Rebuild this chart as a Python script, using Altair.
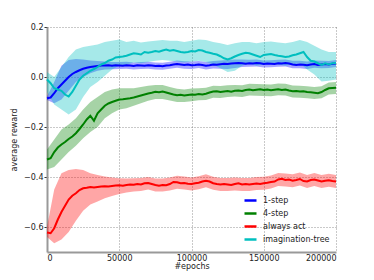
import altair as alt
import pandas as pd

series_names = ["1-step", "4-step", "always act", "imagination-tree"]
series_colors = ["#0000ff", "#008000", "#ff0000", "#00bfbf"]

# line sampling every 2500 epochs
epochs_line = list(range(0, 200001, 2500))
# band sampling every 5000 epochs
epochs_band = list(range(0, 200001, 5000))

blue_mean = [-0.085, -0.082, -0.065, -0.045, -0.03, -0.015, 0.0, 0.012, 0.02, 0.027,
             0.033, 0.037, 0.04, 0.042, 0.044, 0.046, 0.046, 0.047, 0.045, 0.047,
             0.046, 0.045, 0.047, 0.046, 0.044, 0.047, 0.046, 0.045, 0.047, 0.046,
             0.044, 0.045, 0.043, 0.046, 0.047, 0.05, 0.052, 0.05, 0.048, 0.05,
             0.047, 0.048, 0.05, 0.048, 0.045, 0.047, 0.05, 0.049, 0.051, 0.053,
             0.052, 0.054, 0.055, 0.056, 0.055, 0.053, 0.055, 0.054, 0.056, 0.055,
             0.052, 0.054, 0.053, 0.052, 0.055, 0.054, 0.056, 0.054, 0.05, 0.048,
             0.05, 0.049, 0.047, 0.05, 0.052, 0.048, 0.05, 0.052, 0.05, 0.053,
             0.054]

green_mean = [-0.33, -0.325, -0.3, -0.282, -0.27, -0.26, -0.248, -0.238, -0.225, -0.208,
              -0.19, -0.17, -0.155, -0.175, -0.145, -0.13, -0.115, -0.106, -0.1, -0.095,
              -0.09, -0.089, -0.087, -0.085, -0.082, -0.078, -0.074, -0.07, -0.066, -0.063,
              -0.059, -0.061, -0.058, -0.062, -0.066, -0.07, -0.073, -0.071, -0.074, -0.072,
              -0.07, -0.071, -0.068, -0.07, -0.067, -0.062, -0.058, -0.057, -0.06, -0.058,
              -0.056, -0.059, -0.055, -0.054, -0.056, -0.052, -0.05, -0.053, -0.051, -0.049,
              -0.052, -0.05, -0.053, -0.051, -0.049, -0.052, -0.05, -0.054, -0.057, -0.056,
              -0.058, -0.057, -0.06, -0.061, -0.063, -0.065, -0.06, -0.052, -0.045, -0.044,
              -0.043]

red_mean = [-0.622, -0.625, -0.605, -0.57, -0.54, -0.515, -0.49, -0.475, -0.465, -0.452,
            -0.445, -0.443, -0.44, -0.442, -0.44, -0.438, -0.437, -0.438, -0.436, -0.434,
            -0.433, -0.435, -0.432, -0.43, -0.431, -0.428, -0.43, -0.425, -0.424, -0.428,
            -0.432, -0.435, -0.432, -0.433, -0.428, -0.42, -0.421, -0.425, -0.424, -0.427,
            -0.428, -0.425, -0.423, -0.418, -0.415, -0.418, -0.425, -0.428, -0.43, -0.428,
            -0.43, -0.432, -0.428, -0.425, -0.43, -0.428, -0.43, -0.428, -0.426, -0.428,
            -0.425, -0.423, -0.42, -0.418, -0.41, -0.407, -0.412, -0.41, -0.415, -0.412,
            -0.408, -0.416, -0.418, -0.412, -0.41, -0.414, -0.418, -0.415, -0.413, -0.416,
            -0.418]

cyan_mean = [-0.01, -0.025, -0.045, -0.05, -0.055, -0.07, -0.078, -0.06, -0.035, -0.01,
             0.005, 0.015, 0.025, 0.032, 0.04, 0.05, 0.056, 0.065, 0.07, 0.078,
             0.08, 0.082, 0.085, 0.09, 0.095, 0.093, 0.09, 0.1, 0.097, 0.1,
             0.104, 0.101, 0.106, 0.11, 0.105, 0.108, 0.104, 0.1, 0.098, 0.1,
             0.104, 0.102, 0.108, 0.106, 0.1, 0.097, 0.093, 0.09, 0.083, 0.075,
             0.07, 0.075, 0.082, 0.088, 0.093, 0.097, 0.095, 0.09, 0.085, 0.08,
             0.088, 0.09, 0.092, 0.088, 0.085, 0.083, 0.08, 0.082, 0.087, 0.09,
             0.095, 0.1, 0.08, 0.065, 0.062, 0.055, 0.048, 0.055, 0.05, 0.055,
             0.056]

blue_lo = [-0.092, -0.105, -0.09, -0.055, -0.02, 0.0, 0.015, 0.025, 0.03, 0.031,
           0.032, 0.033, 0.03, 0.032, 0.033, 0.03, 0.029, 0.033, 0.037, 0.033,
           0.032, 0.036, 0.03, 0.034, 0.033, 0.032, 0.036, 0.04, 0.041, 0.042,
           0.038, 0.039, 0.041, 0.042, 0.035, 0.035, 0.032, 0.037, 0.035, 0.036,
           0.04]
blue_hi = [-0.078, -0.02, 0.045, 0.068, 0.072, 0.07, 0.066, 0.064, 0.062, 0.06,
           0.06, 0.061, 0.058, 0.06, 0.061, 0.058, 0.057, 0.061, 0.066, 0.063,
           0.062, 0.064, 0.06, 0.064, 0.066, 0.068, 0.07, 0.07, 0.069, 0.07,
           0.066, 0.067, 0.069, 0.07, 0.065, 0.065, 0.062, 0.066, 0.065, 0.064,
           0.068]

green_lo = [-0.37, -0.36, -0.33, -0.3, -0.275, -0.245, -0.22, -0.2, -0.165, -0.145,
            -0.13, -0.125, -0.115, -0.105, -0.095, -0.088, -0.088, -0.094, -0.1, -0.1,
            -0.097, -0.093, -0.092, -0.083, -0.084, -0.08, -0.078, -0.08, -0.074, -0.075,
            -0.076, -0.077, -0.073, -0.074, -0.082, -0.083, -0.085, -0.088, -0.085, -0.07,
            -0.068]
green_hi = [-0.29, -0.25, -0.21, -0.19, -0.165, -0.13, -0.1, -0.08, -0.06, -0.05,
            -0.045, -0.045, -0.045, -0.04, -0.035, -0.032, -0.032, -0.04, -0.047, -0.05,
            -0.046, -0.045, -0.043, -0.035, -0.036, -0.033, -0.032, -0.033, -0.027, -0.028,
            -0.029, -0.03, -0.026, -0.027, -0.034, -0.035, -0.037, -0.04, -0.037, -0.022,
            -0.02]

red_lo = [-0.64, -0.665, -0.65, -0.62, -0.575, -0.535, -0.51, -0.498, -0.485, -0.476,
          -0.468, -0.462, -0.458, -0.456, -0.45, -0.458, -0.458, -0.454, -0.447, -0.45,
          -0.454, -0.449, -0.441, -0.451, -0.456, -0.456, -0.454, -0.456, -0.456, -0.452,
          -0.451, -0.446, -0.436, -0.438, -0.441, -0.434, -0.444, -0.436, -0.444, -0.439,
          -0.444]
red_hi = [-0.6, -0.45, -0.385, -0.372, -0.368, -0.372, -0.385, -0.392, -0.398, -0.402,
          -0.405, -0.406, -0.405, -0.404, -0.4, -0.406, -0.406, -0.402, -0.395, -0.398,
          -0.402, -0.397, -0.389, -0.399, -0.404, -0.404, -0.402, -0.404, -0.404, -0.4,
          -0.399, -0.394, -0.384, -0.386, -0.389, -0.382, -0.392, -0.384, -0.392, -0.387,
          -0.392]

cyan_lo = [-0.06, -0.11, -0.13, -0.15, -0.13, -0.08, -0.04, -0.02, 0.005, 0.03,
           0.045, 0.05, 0.058, 0.055, 0.06, 0.065, 0.068, 0.065, 0.062, 0.058,
           0.062, 0.065, 0.06, 0.05, 0.035, 0.02, 0.025, 0.045, 0.055, 0.045,
           0.05, 0.055, 0.05, 0.045, 0.05, 0.055, 0.03, 0.01, -0.018, -0.015,
           -0.01]
cyan_hi = [0.02, 0.0, 0.04, 0.08, 0.11, 0.12, 0.125, 0.13, 0.14, 0.145,
           0.15, 0.14, 0.145, 0.138, 0.142, 0.145, 0.148, 0.145, 0.145, 0.14,
           0.145, 0.15, 0.148, 0.14, 0.135, 0.128, 0.135, 0.14, 0.14, 0.135,
           0.14, 0.142, 0.138, 0.135, 0.14, 0.148, 0.14, 0.125, 0.11, 0.1,
           0.1]

means = [blue_mean, green_mean, red_mean, cyan_mean]
los = [blue_lo, green_lo, red_lo, cyan_lo]
his = [blue_hi, green_hi, red_hi, cyan_hi]

line_rows = []
band_rows = []
for k, name in enumerate(series_names):
    for e, v in zip(epochs_line, means[k]):
        line_rows.append({"series": name, "epoch": e, "reward": v})
    for e, lo, hi in zip(epochs_band, los[k], his[k]):
        band_rows.append({"series": name, "epoch": e, "lo": lo, "hi": hi})
line_df = pd.DataFrame(line_rows)
band_df = pd.DataFrame(band_rows)

FONT = "DejaVu Sans"
x_scale = alt.Scale(domain=[0, 200000], nice=False)
y_scale = alt.Scale(domain=[-0.7, 0.2], nice=False, zero=False)

x_axis = alt.Axis(values=[0, 50000, 100000, 150000, 200000], format="d",
                  title="#epochs", tickSize=0, labelPadding=2, titlePadding=0)
y_axis = alt.Axis(values=[-0.6, -0.4, -0.2, 0.0, 0.2], format=".1f",
                  title="average reward", tickSize=3, labelPadding=1, titlePadding=5)

band_layers = []
for k, name in enumerate(series_names):
    band_layers.append(
        alt.Chart(band_df).transform_filter(alt.datum.series == name)
        .mark_area(opacity=0.35, color=series_colors[k]).encode(
            x=alt.X("epoch:Q", scale=x_scale, axis=x_axis, title="#epochs"),
            y=alt.Y("lo:Q", scale=y_scale, axis=y_axis, title="average reward"),
            y2="hi:Q",
        )
    )

lines = alt.Chart(line_df).mark_line(strokeWidth=2).encode(
    x=alt.X("epoch:Q", scale=x_scale, axis=x_axis, title="#epochs"),
    y=alt.Y("reward:Q", scale=y_scale, axis=y_axis, title="average reward"),
    stroke=alt.Stroke("series:N", scale=alt.Scale(domain=series_names, range=series_colors),
                      sort=series_names,
                      legend=alt.Legend(title=None, orient="none", legendX=196, legendY=166,
                                        symbolType="stroke", symbolSize=144,
                                        symbolStrokeWidth=2.5, labelFontSize=8,
                                        labelFont=FONT, labelOffset=5, rowPadding=-1,
                                        padding=0, labelColor="#222")),
)

chart = alt.layer(*band_layers, lines).properties(
    width=289, height=225,
    autosize=alt.AutoSizeParams(type="none"),
    padding={"left": 39, "top": 19, "right": 28, "bottom": 20},
).configure_view(stroke=None).configure_axis(
    grid=True, gridDash=[1, 2], gridColor="#777", gridWidth=0.8, gridOpacity=1,
    domainColor="#999", domainWidth=2, tickColor="#333", tickWidth=1,
    labelFont=FONT, labelFontSize=8, labelColor="#222",
    titleFont=FONT, titleFontSize=8, titleFontWeight="normal", titleColor="#222",
)

chart.save("out.html", embed_options={"renderer": "svg", "actions": False})
